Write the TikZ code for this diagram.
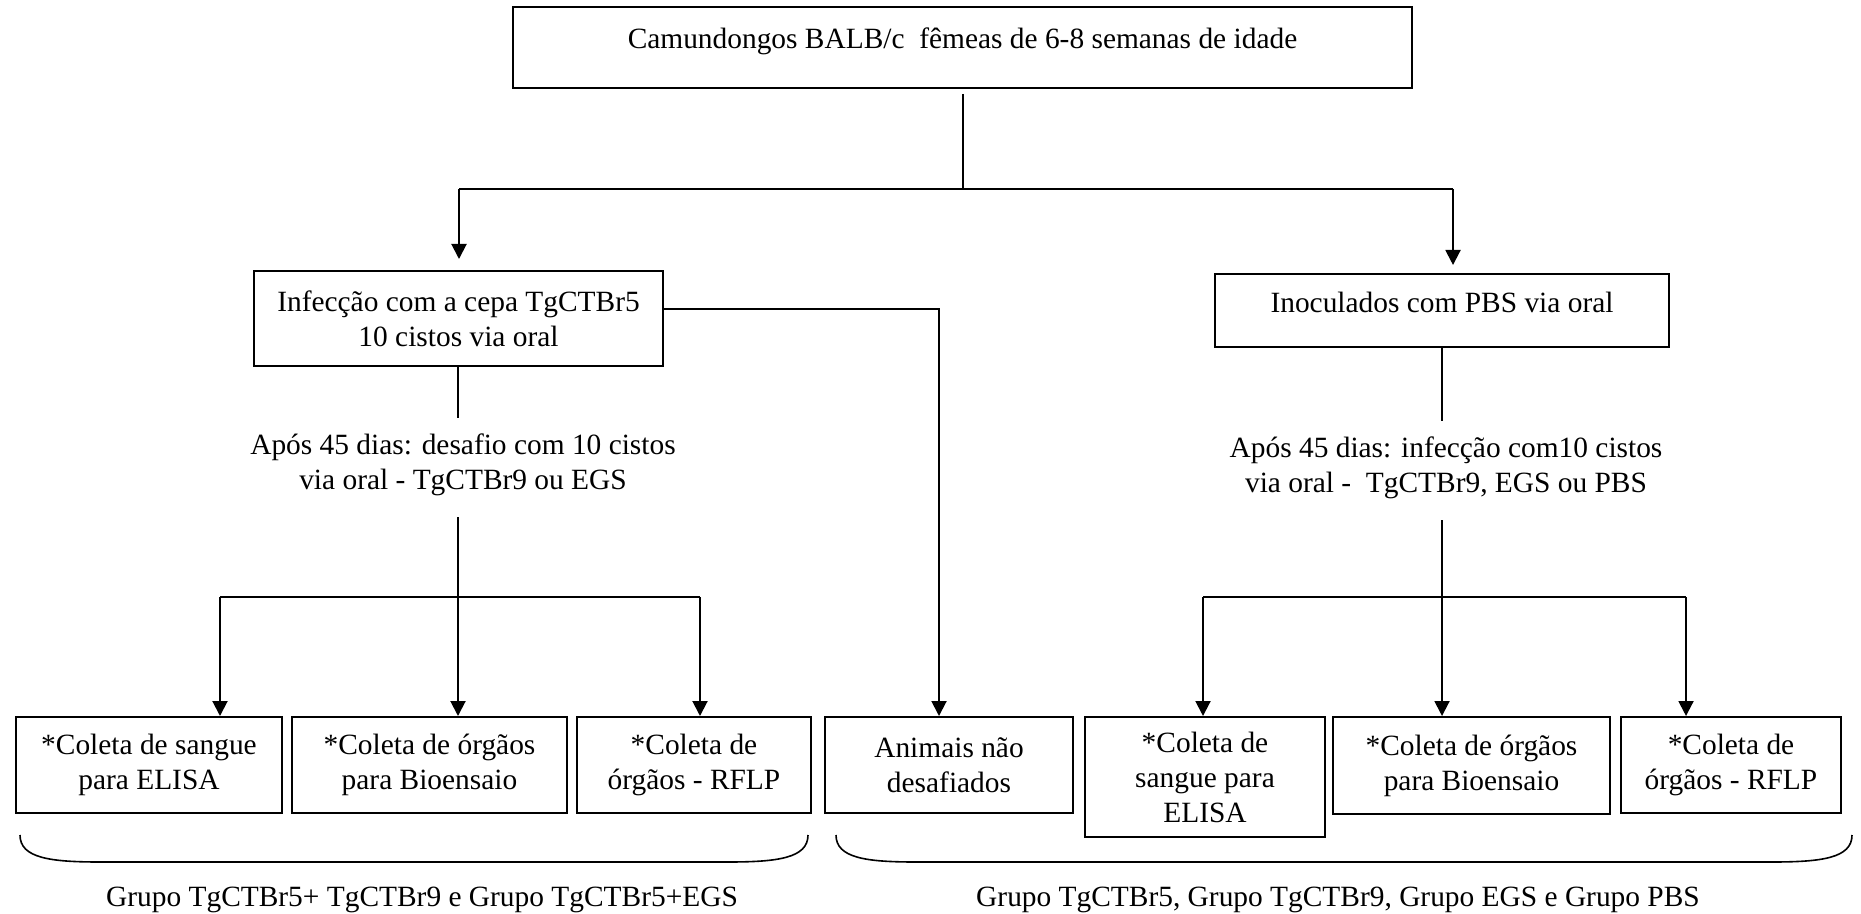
\documentclass[tikz,border=0pt]{standalone}
\usepackage{fontspec}
\setmainfont{Liberation Serif}
\usetikzlibrary{arrows.meta}
\begin{document}
\begin{tikzpicture}[x=0.5pt,y=-0.5pt,
  every node/.style={font=\fontsize{14.7}{17.5}\selectfont},
  box/.style={draw, line width=1pt, align=center, inner sep=0pt},
  lbl/.style={align=center, inner sep=0pt},
  stem/.style={line width=0.75pt},
  bar/.style={line width=0.7pt},
  arr/.style={line width=1pt, -{Triangle[length=7.5pt,width=7.5pt]}},
  bracestyle/.style={line width=0.8pt}]
\useasboundingbox (0,0) rectangle (1861,914);

% boxes
\node[box, minimum width=449.5pt, minimum height=40.5pt, text height=10pt, text depth=9pt] (top) at (962.5,47.5) {Camundongos BALB/c\ \ fêmeas de 6-8 semanas de idade};
\node[box, minimum width=204.5pt, minimum height=47.5pt] (inf) at (458.5,318.5) {Infecção com a cepa TgCTBr5\\10 cistos via oral};
\node[box, minimum width=227pt, minimum height=36.5pt, text height=10pt, text depth=8pt] (ino) at (1442,310.5) {Inoculados com PBS via oral};

\node[box, minimum width=133pt, minimum height=48pt] (b1) at (149,765) {*Coleta de sangue\\para ELISA};
\node[box, minimum width=137.5pt, minimum height=48pt] (b2) at (429.5,765) {*Coleta de órgãos\\para Bioensaio};
\node[box, minimum width=117pt, minimum height=48pt] (b3) at (694,765) {*Coleta de\\órgãos - RFLP};
\node[box, minimum width=124pt, minimum height=48pt] (b4) at (949,765) {Animais não\\desafiados};
\node[box, minimum width=120pt, minimum height=60pt] (b5) at (1205,777) {*Coleta de\\sangue para\\ELISA};
\node[box, minimum width=138.5pt, minimum height=48.5pt] (b6) at (1471.5,765.5) {*Coleta de órgãos\\para Bioensaio};
\node[box, minimum width=110pt, minimum height=48pt] (b7) at (1731,765) {*Coleta de\\órgãos - RFLP};

% intermediate texts
\node[lbl] (t1) at (463,464.5) {Após 45 dias: desafio com 10 cistos\\via oral - TgCTBr9 ou EGS};
\node[lbl] (t2) at (1446,467.5) {Após 45 dias: infecção com10 cistos\\via oral -\ \ TgCTBr9, EGS ou PBS};

\node[lbl] (g1) at (422,900) {Grupo TgCTBr5+ TgCTBr9 e Grupo TgCTBr5+EGS};
\node[lbl] (g2) at (1338,900) {Grupo TgCTBr5, Grupo TgCTBr9, Grupo EGS e Grupo PBS};

% top split
\coordinate (j0) at (963,189);
\coordinate (jl) at (459,189);
\coordinate (jr) at (1453,189);
\draw[stem] ([yshift=-2.5pt]top.south -| j0) -- (j0);
\draw[bar] (jl) -- (jr);
\draw[arr, shorten >=5.5pt] (jl) -- (jl |- inf.north);
\draw[arr, shorten >=4pt] (jr) -- (jr |- ino.north);

% left branch
\coordinate (l1) at (458,418);
\coordinate (l2) at (458,517);
\coordinate (l3) at (458,597);
\coordinate (la) at (220,597);
\coordinate (lb) at (700,597);
\draw[stem] (inf.south -| l1) -- (l1);
\draw[bar] (la) -- (lb);
\draw[arr] (l2) -- (l2 |- b2.north);
\draw[arr] (la) -- (la |- b1.north);
\draw[arr] (lb) -- (lb |- b3.north);

% not challenged
\coordinate (nc) at (939,309);
\draw[arr] (inf.east |- nc) -- (nc) -- (nc |- b4.north);

% right branch
\coordinate (r1) at (1442,421);
\coordinate (r2) at (1442,520);
\coordinate (ra) at (1203,597);
\coordinate (rb) at (1686,597);
\draw[stem] (ino.south -| r1) -- (r1);
\draw[bar] (ra) -- (rb);
\draw[arr] (r2) -- (r2 |- b6.north);
\draw[arr] (ra) -- (ra |- b5.north);
\draw[arr] (rb) -- (rb |- b7.north);

% braces
\draw[bracestyle] (20,835) .. controls (20,858) and (50,862) .. (100,862) -- (728,862) .. controls (778,862) and (808,858) .. (808,835);
\draw[bracestyle] (836,835) .. controls (836,858) and (866,862) .. (916,862) -- (1772,862) .. controls (1822,862) and (1852,858) .. (1852,835);
\end{tikzpicture}
\end{document}
